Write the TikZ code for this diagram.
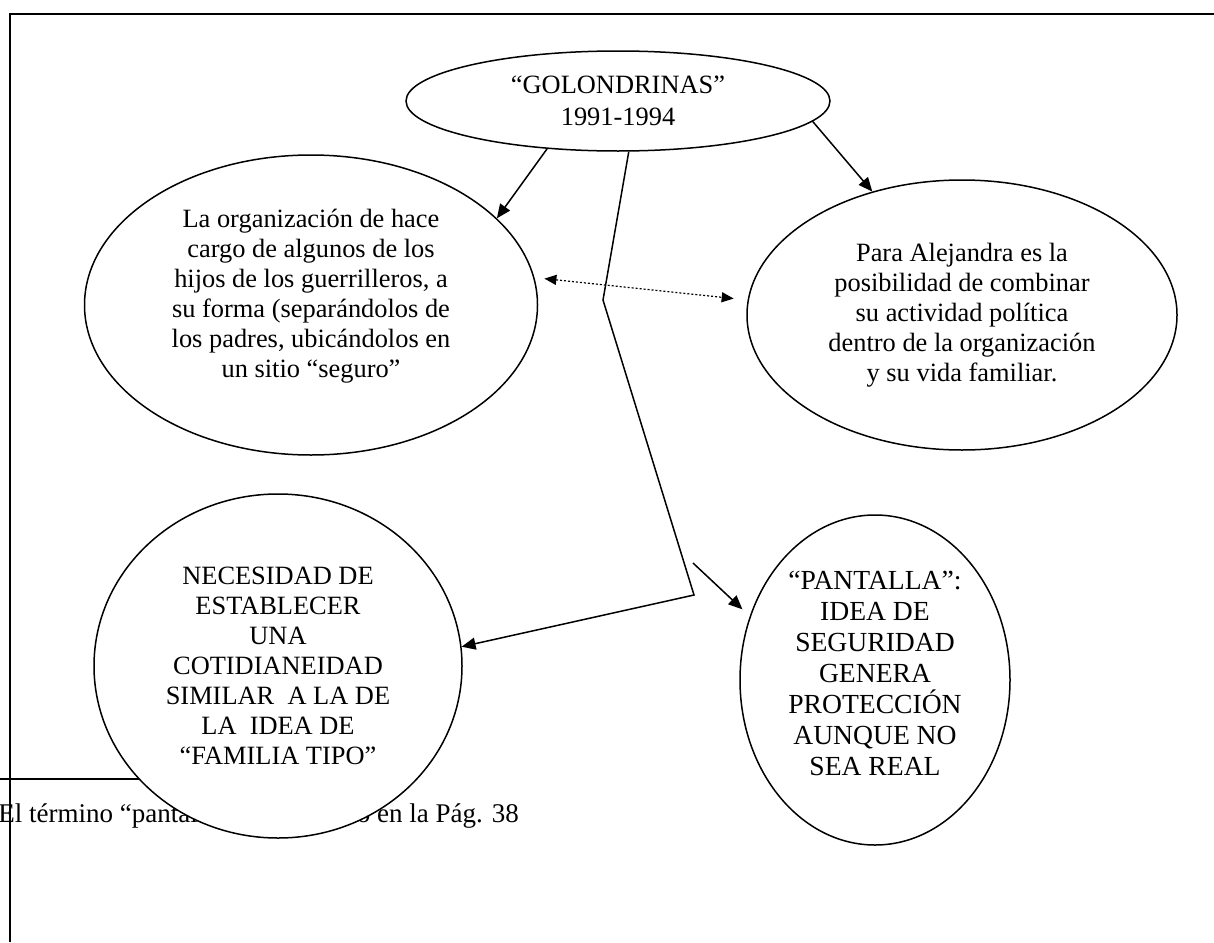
\documentclass[tikz,border=0pt]{standalone}
\usepackage{fontspec}
\setmainfont{Liberation Serif}
\usetikzlibrary{arrows.meta,shapes.geometric}

\begin{document}
\begin{tikzpicture}[x=.5pt,y=-.5pt,oval/.style={draw,ellipse,fill=white,line width=.75pt,inner sep=0pt,align=center,font=\fontsize{13.2}{15}\selectfont},arr/.style={-{Triangle[length=7pt,width=6pt]},line width=.75pt},dotarr/.style={{Triangle[length=6pt,width=5pt]}-{Triangle[length=6pt,width=5pt]},dash pattern=on 1pt off 1pt,line width=.6pt}]
\useasboundingbox (0,0) rectangle (1214,942);

% footnote under the picture
\draw[line width=.75pt] (0,779) -- (250,779);
\node[anchor=base west,inner sep=0pt,font=\fontsize{13.5}{15}\selectfont] (note) at (-2,822) {El término “pantalla” es explicado en la Pág. 38};

\node[oval,minimum width=212pt,minimum height=50pt,font=\fontsize{13.2}{16}\selectfont] (gol) at (618,101) {“GOLONDRINAS”\\1991-1994};
\node[oval,minimum width=226.5pt,minimum height=150pt] (org) at (311,305) {La organización de hace\\cargo de algunos de los\\hijos de los guerrilleros, a\\su forma (separándolos de\\los padres, ubicándolos en\\un sitio “seguro”\\[-3pt]\mbox{}};
\node[oval,minimum width=215pt,minimum height=135pt] (ale) at (962,315) {Para Alejandra es la\\posibilidad de combinar\\su actividad política\\dentro de la organización\\y su vida familiar.};
\node[oval,minimum width=184pt,minimum height=172pt] (nec) at (278,666) {NECESIDAD DE\\ESTABLECER\\UNA\\COTIDIANEIDAD\\SIMILAR\ \ A LA DE\\LA\ \ IDEA DE\\“FAMILIA TIPO”};
\node[oval,minimum width=135pt,minimum height=165pt,font=\fontsize{13.8}{15.5}\selectfont] (pan) at (875,680) {“PANTALLA”:\\IDEA DE\\SEGURIDAD\\GENERA\\PROTECCIÓN\\AUNQUE NO\\SEA REAL\\[-9pt]\mbox{}};

% frame
\draw[line width=1pt] (1214,14) -- (10,14) -- (10,942);

\draw[arr] (gol.214) -- (org.25);
\draw[arr] (gol.354) -- (ale.126);
\draw[dotarr,shorten <=5pt,shorten >=7pt] (org.7) -- (ale.176);
\coordinate (k1) at (603,300);
\coordinate (k2) at (694,595);
\draw[arr] (gol.282) -- (k1) -- (k2) -- (nec.6);
\coordinate (pstart) at (693,563);
\draw[arr,shorten >=5pt] (pstart) -- (pan.153);
\end{tikzpicture}
\end{document}
